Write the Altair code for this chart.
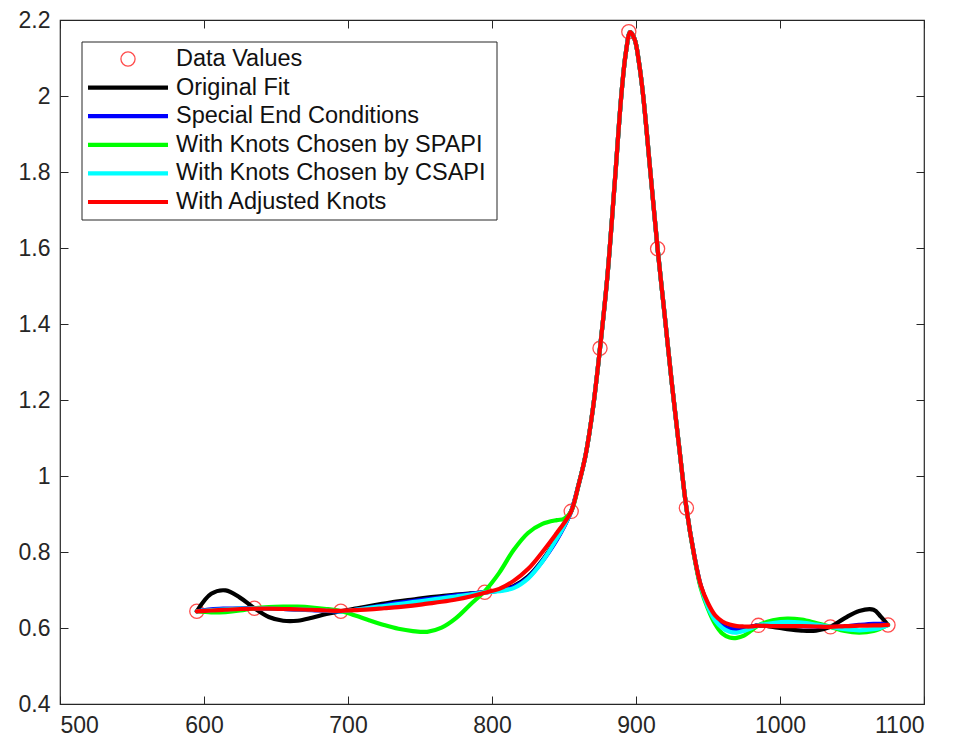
import altair as alt
import pandas as pd

# ---------------- data ----------------
data_x = [595, 635, 695, 795, 855, 875, 895, 915, 935, 985, 1035, 1075]
data_y = [0.644, 0.652, 0.644, 0.694, 0.907, 1.336, 2.169, 1.598, 0.916, 0.607, 0.603, 0.608]

curve_x = [595, 605, 615, 625, 635, 645, 655, 665, 675, 685,
           695, 705, 715, 725, 735, 745, 755, 765, 775, 785,
           795, 805, 815, 825, 835, 845, 850, 855, 860, 865,
           870, 875, 880, 885, 890, 893, 896, 899, 902, 905,
           910, 915, 920, 925, 930, 935, 940, 945, 950, 955,
           960, 965, 970, 975, 980, 985, 995, 1005, 1015, 1025,
           1035, 1045, 1055, 1065, 1070, 1075]

original_fit = [0.644, 0.690, 0.699, 0.680, 0.652, 0.629, 0.619, 0.619, 0.627, 0.637,
                0.644, 0.651, 0.658, 0.664, 0.670, 0.675, 0.680, 0.684, 0.688, 0.691,
                0.694, 0.699, 0.710, 0.735, 0.778, 0.835, 0.868, 0.907, 0.975, 1.055,
                1.175, 1.336, 1.520, 1.760, 2.010, 2.115, 2.168, 2.150, 2.090, 2.000,
                1.800, 1.598, 1.420, 1.240, 1.075, 0.916, 0.800, 0.710, 0.660, 0.626,
                0.607, 0.599, 0.597, 0.599, 0.603, 0.607, 0.603, 0.597, 0.593, 0.593,
                0.603, 0.626, 0.645, 0.648, 0.630, 0.608]

special_end = [0.644, 0.649, 0.651, 0.652, 0.652, 0.651, 0.650, 0.648, 0.647, 0.645,
               0.644, 0.648, 0.654, 0.660, 0.666, 0.671, 0.676, 0.681, 0.686, 0.690,
               0.694, 0.698, 0.708, 0.732, 0.776, 0.832, 0.866, 0.907, 0.975, 1.055,
               1.175, 1.336, 1.520, 1.760, 2.010, 2.115, 2.168, 2.150, 2.090, 2.000,
               1.800, 1.598, 1.420, 1.240, 1.075, 0.916, 0.800, 0.710, 0.660, 0.625,
               0.606, 0.598, 0.597, 0.600, 0.603, 0.607, 0.607, 0.606, 0.605, 0.604,
               0.603, 0.604, 0.608, 0.611, 0.611, 0.608]

spapi_knots = [0.644, 0.641, 0.642, 0.646, 0.652, 0.655, 0.656, 0.656, 0.654, 0.650,
               0.644, 0.633, 0.620, 0.608, 0.598, 0.592, 0.590, 0.601, 0.626, 0.662,
               0.697, 0.745, 0.805, 0.850, 0.874, 0.884, 0.887, 0.907, 0.975, 1.055,
               1.175, 1.336, 1.520, 1.760, 2.010, 2.115, 2.168, 2.150, 2.090, 2.000,
               1.800, 1.598, 1.420, 1.240, 1.075, 0.916, 0.798, 0.705, 0.650, 0.610,
               0.585, 0.575, 0.574, 0.580, 0.593, 0.607, 0.620, 0.625, 0.622, 0.613,
               0.603, 0.592, 0.588, 0.592, 0.599, 0.608]

csapi_knots = [0.644, 0.647, 0.649, 0.651, 0.652, 0.651, 0.650, 0.649, 0.648, 0.646,
               0.644, 0.648, 0.653, 0.658, 0.663, 0.668, 0.673, 0.678, 0.683, 0.688,
               0.694, 0.697, 0.705, 0.730, 0.775, 0.835, 0.868, 0.907, 0.975, 1.055,
               1.175, 1.336, 1.520, 1.760, 2.010, 2.115, 2.168, 2.150, 2.090, 2.000,
               1.800, 1.598, 1.420, 1.240, 1.075, 0.916, 0.800, 0.710, 0.655, 0.620,
               0.600, 0.590, 0.588, 0.592, 0.599, 0.607, 0.613, 0.616, 0.614, 0.609,
               0.603, 0.597, 0.594, 0.597, 0.601, 0.608]

adjusted_knots = [0.644, 0.646, 0.648, 0.650, 0.651, 0.651, 0.650, 0.649, 0.648, 0.646,
                  0.645, 0.647, 0.649, 0.652, 0.655, 0.659, 0.664, 0.669, 0.675, 0.683,
                  0.693, 0.703, 0.724, 0.755, 0.800, 0.850, 0.876, 0.907, 0.975, 1.055,
                  1.175, 1.336, 1.520, 1.760, 2.010, 2.115, 2.168, 2.150, 2.090, 2.000,
                  1.800, 1.598, 1.420, 1.240, 1.075, 0.916, 0.800, 0.712, 0.665, 0.633,
                  0.617, 0.609, 0.605, 0.604, 0.604, 0.606, 0.605, 0.605, 0.605, 0.604,
                  0.603, 0.605, 0.606, 0.607, 0.607, 0.608]

legend_labels = ["Data Values", "Original Fit", "Special End Conditions",
                 "With Knots Chosen by SPAPI", "With Knots Chosen by CSAPI",
                 "With Adjusted Knots"]
line_series = [original_fit, special_end, spapi_knots, csapi_knots, adjusted_knots]
line_colors = ["#000000", "#0000FF", "#00FF00", "#00FFFF", "#FF0000"]
data_color = "#FF0000"

x_ticks = [500, 600, 700, 800, 900, 1000, 1100]
y_ticks = [0.4, 0.6, 0.8, 1.0, 1.2, 1.4, 1.6, 1.8, 2.0, 2.2]

# ---------------- style ----------------
AX = "#262626"
FONT = "Liberation Sans"
W, H = 864, 684

xs = alt.Scale(domain=[500, 1100], nice=False, zero=False)
ys = alt.Scale(domain=[0.4, 2.2], nice=False, zero=False)

common_axis = dict(domain=False, grid=False, title=None, ticks=True, tickSize=8,
                   tickColor=AX, tickWidth=1, offset=-8,
                   labelFont=FONT, labelFontSize=23, labelColor=AX)

x_bottom = alt.Axis(orient="bottom", values=x_ticks, labelPadding=10, format="d", **common_axis)
y_left = alt.Axis(orient="left", values=y_ticks, labelPadding=10, format="~g", **common_axis)
x_top = alt.Axis(orient="top", values=x_ticks, labels=False, domain=False, grid=False,
                 title=None, tickSize=8, tickColor=AX, tickWidth=1, offset=-8)
y_right = alt.Axis(orient="right", values=y_ticks, labels=False, domain=False, grid=False,
                   title=None, tickSize=8, tickColor=AX, tickWidth=1, offset=-8)

layers = []

# data points (first in plot order)
pts_df = pd.DataFrame({"x": data_x, "y": data_y})
points = alt.Chart(pts_df).mark_point(
    shape="circle", filled=False, color=data_color, size=200, strokeWidth=1.3
).encode(
    x=alt.X("x:Q", scale=xs, axis=x_top),
    y=alt.Y("y:Q", scale=ys, axis=y_right),
)

first = True
for name, vals, col in zip(legend_labels[1:], line_series, line_colors):
    df = pd.DataFrame({"x": curve_x, "y": vals})
    if first:
        enc = dict(x=alt.X("x:Q", scale=xs, axis=x_bottom),
                   y=alt.Y("y:Q", scale=ys, axis=y_left))
        first = False
    else:
        enc = dict(x=alt.X("x:Q", scale=xs, axis=None),
                   y=alt.Y("y:Q", scale=ys, axis=None))
    layers.append(
        alt.Chart(df).mark_line(color=col, strokeWidth=4.2, interpolate="catmull-rom",
                                strokeCap="round", strokeJoin="round").encode(**enc)
    )

# ---------------- legend (layout in pixels) ----------------
box = alt.Chart(pd.DataFrame({"a": [0]})).mark_rect(
    fill="white", stroke=AX, strokeWidth=1
).encode(x=alt.value(22), x2=alt.value(437), y=alt.value(22), y2=alt.value(200))

leg_layers = [box]
row0, drow = 39, 28.6
for i, label in enumerate(legend_labels):
    yy = row0 + i * drow
    if i == 0:
        leg_layers.append(
            alt.Chart(pd.DataFrame({"a": [0]})).mark_point(
                shape="circle", filled=False, color=data_color, size=200, strokeWidth=1.3
            ).encode(x=alt.value(68), y=alt.value(yy))
        )
    else:
        leg_layers.append(
            alt.Chart(pd.DataFrame({"a": [0]})).mark_rule(
                color=line_colors[i - 1], strokeWidth=4.2
            ).encode(x=alt.value(28), x2=alt.value(108), y=alt.value(yy))
        )
    leg_layers.append(
        alt.Chart(pd.DataFrame({"t": [label]})).mark_text(
            align="left", baseline="middle", font=FONT, fontSize=23.5, color="#111111"
        ).encode(x=alt.value(116), y=alt.value(yy), text="t:N")
    )

chart = alt.layer(points, *layers, *leg_layers).resolve_axis(
    x="independent", y="independent"
).properties(
    width=W, height=H,
    autosize=alt.AutoSizeParams(type="none"),
    padding={"left": 52, "top": 12, "right": 27, "bottom": 36},
    background="white",
).configure_view(stroke=AX, strokeWidth=1.2)

chart.save("out.html", embed_options={"renderer": "svg", "actions": False})
